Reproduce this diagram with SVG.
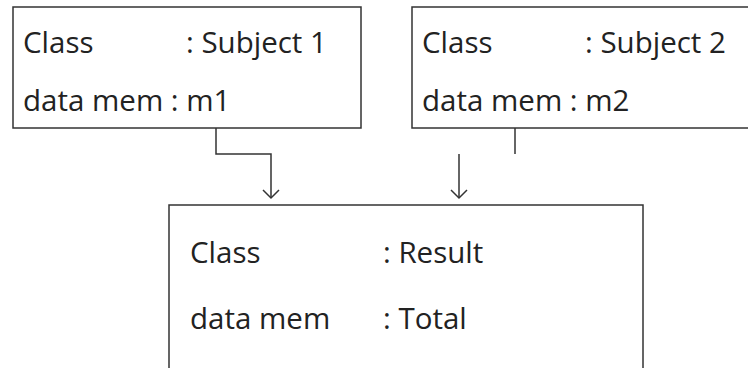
<svg xmlns="http://www.w3.org/2000/svg" width="748" height="368" viewBox="0 0 748 368">
<style>
.box{fill:#fff;stroke:#333;stroke-width:1.5}
.t{font-family:"Open Sans","Liberation Sans",sans-serif;font-size:29.5px;fill:#222}
.c{fill:none;stroke:#333;stroke-width:1.5}
</style>
<defs>
<marker id="arr" markerWidth="20" markerHeight="20" refX="10" refY="10" orient="auto" markerUnits="userSpaceOnUse">
<path d="M2,2 L10,10 L2,18" fill="none" stroke="#333" stroke-width="1.5"/>
</marker>
</defs>
<rect width="748" height="368" fill="#fff"/>
<g id="subject1">
<rect class="box" x="13" y="7" width="348" height="121"/>
<text class="t" x="23" y="53">Class</text>
<text class="t" x="186" y="53">: Subject 1</text>
<text class="t" x="23" y="111">data mem : m1</text>
</g>
<g id="subject2">
<rect class="box" x="412" y="7" width="350" height="121"/>
<text class="t" x="422" y="53">Class</text>
<text class="t" x="585" y="53">: Subject 2</text>
<text class="t" x="422" y="111">data mem : m2</text>
</g>
<g id="result">
<rect class="box" x="169" y="205" width="474" height="180"/>
<text class="t" x="190" y="263">Class</text>
<text class="t" x="383" y="263">: Result</text>
<text class="t" x="190" y="329">data mem</text>
<text class="t" x="383" y="329">: Total</text>
</g>
<g id="connectors">
<path class="c" d="M216,128 V154 H271 V198" marker-end="url(#arr)"/>
<path class="c" d="M515,128 V154"/>
<path class="c" d="M459,154 V198" marker-end="url(#arr)"/>
</g>
</svg>
